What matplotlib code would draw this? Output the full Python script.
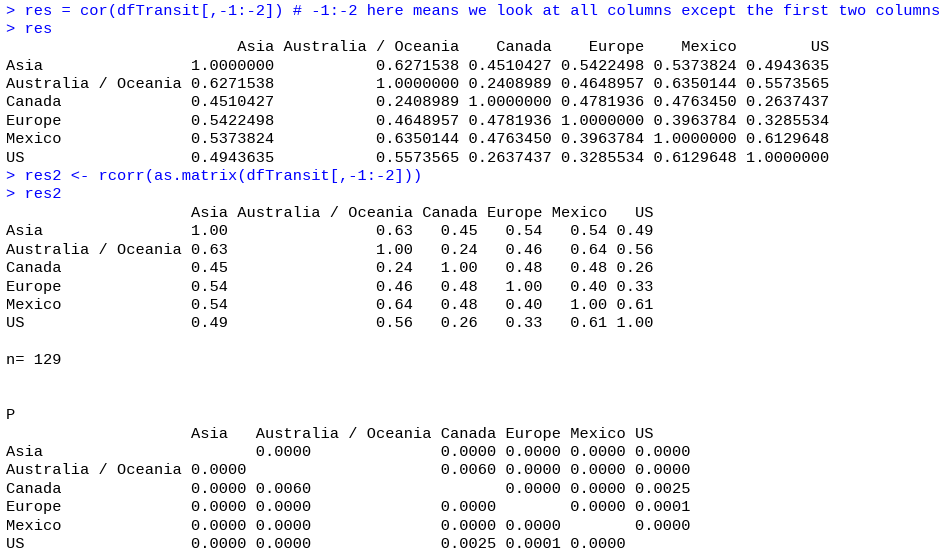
import numpy as np
import matplotlib
matplotlib.use("Agg")
import matplotlib.pyplot as plt

names = ["Asia", "Australia / Oceania", "Canada", "Europe", "Mexico", "US"]
res = np.array([
    [1.0000000, 0.6271538, 0.4510427, 0.5422498, 0.5373824, 0.4943635],
    [0.6271538, 1.0000000, 0.2408989, 0.4648957, 0.6350144, 0.5573565],
    [0.4510427, 0.2408989, 1.0000000, 0.4781936, 0.4763450, 0.2637437],
    [0.5422498, 0.4648957, 0.4781936, 1.0000000, 0.3963784, 0.3285534],
    [0.5373824, 0.6350144, 0.4763450, 0.3963784, 1.0000000, 0.6129648],
    [0.4943635, 0.5573565, 0.2637437, 0.3285534, 0.6129648, 1.0000000],
])
res2 = np.array([
    [1.00, 0.63, 0.45, 0.54, 0.54, 0.49],
    [0.63, 1.00, 0.24, 0.46, 0.64, 0.56],
    [0.45, 0.24, 1.00, 0.48, 0.48, 0.26],
    [0.54, 0.46, 0.48, 1.00, 0.40, 0.33],
    [0.54, 0.64, 0.48, 0.40, 1.00, 0.61],
    [0.49, 0.56, 0.26, 0.33, 0.61, 1.00],
])
nan = np.nan
pvals = np.array([
    [nan, 0.0000, 0.0000, 0.0000, 0.0000, 0.0000],
    [0.0000, nan, 0.0060, 0.0000, 0.0000, 0.0000],
    [0.0000, 0.0060, nan, 0.0000, 0.0000, 0.0025],
    [0.0000, 0.0000, 0.0000, nan, 0.0000, 0.0001],
    [0.0000, 0.0000, 0.0000, 0.0000, nan, 0.0000],
    [0.0000, 0.0000, 0.0025, 0.0001, 0.0000, nan],
])
n_obs = 129

cmd1 = "> res = cor(dfTransit[,-1:-2]) # -1:-2 here means we look at all columns except the first two columns"
cmd2 = "> res"
cmd3 = "> res2 <- rcorr(as.matrix(dfTransit[,-1:-2]))"
cmd4 = "> res2"

rw = max(len(s) for s in names)


def num_block(m, fmt):
    vals = [[fmt % v for v in row] for row in m]
    widths = [max(len(nm), max(len(vals[i][j]) for i in range(len(m))))
              for j, nm in enumerate(names)]
    out = [" " * rw + "".join(" " + nm.rjust(w) for nm, w in zip(names, widths))]
    for i, nm in enumerate(names):
        out.append(nm.ljust(rw) + "".join(" " + vals[i][j].rjust(w) for j, w in enumerate(widths)))
    return out


def p_block(m):
    vals = [["" if np.isnan(v) else "%.4f" % v for v in row] for row in m]
    widths = [max(len(nm), 6) for nm in names]
    out = [" " * rw + "".join(" " + nm.ljust(w) for nm, w in zip(names, widths)).rstrip()]
    for i, nm in enumerate(names):
        out.append((nm.ljust(rw) + "".join(" " + vals[i][j].ljust(w) for j, w in enumerate(widths))).rstrip())
    return out


blue = "#0000ff"
lines = [(cmd1, blue), (cmd2, blue)]
lines += [(s, "black") for s in num_block(res, "%.7f")]
lines += [(cmd3, blue), (cmd4, blue)]
lines += [(s, "black") for s in num_block(res2, "%.2f")]
lines += [("", "black"), ("n= %d" % n_obs, "black"), ("", "black"), ("", "black"), ("P", "black")]
lines += [(s, "black") for s in p_block(pvals)]

W, H = 941, 550
fig = plt.figure(figsize=(W / 100, H / 100), dpi=100)
fig.patch.set_facecolor("white")
y0, dy = 10.5, 18.4
for k, (txt, col) in enumerate(lines):
    fig.text(6 / W, 1 - (y0 + k * dy) / H, txt, color=col, family="Liberation Mono",
             fontsize=11.05, va="center", ha="left")
fig.savefig("out.png", dpi=100, facecolor="white")
